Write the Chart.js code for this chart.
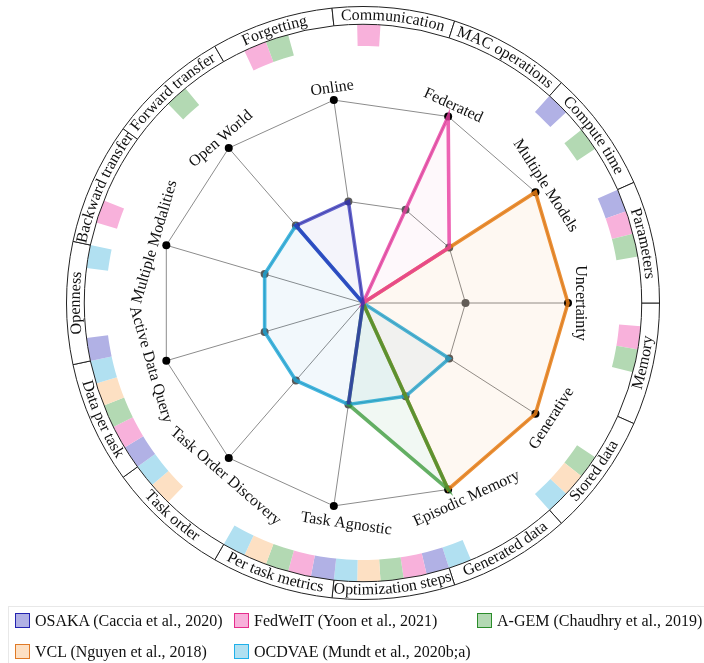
<!DOCTYPE html>
<html>
<head>
<meta charset="utf-8">
<script src="https://cdn.jsdelivr.net/npm/chart.js@4.4.1/dist/chart.umd.min.js"></script>
<style>
  body { margin: 0; background: #fff; }
  #wrap { position: relative; width: 704px; height: 663px; overflow: hidden; }
  #wrap canvas { position: absolute; left: 0; top: 0; }
  #legend { position: absolute; left: 8px; top: 606px; width: 700px; height: 60px; border: 1px solid #e8e8e8;
            font-family: "Liberation Serif", serif; font-size: 16px; color: #111; }
  .item { position: absolute; white-space: nowrap; height: 15px; line-height: 15px; }
  .box { display: inline-block; box-sizing: border-box; width: 15px; height: 15px; border: 1.5px solid; vertical-align: top; margin-right: 5px; }
</style>
</head>
<body>
<div id="wrap">
  <canvas id="ringChart" width="704" height="610"></canvas>
  <canvas id="radarChart" width="704" height="610"></canvas>
  <div id="legend"></div>
</div>
<script>
// radar axes, clockwise starting at the right
const axisLabels = ['Uncertainty', 'Generative', 'Episodic Memory', 'Task Agnostic', 'Task Order Discovery',
    'Active Data Query', 'Multiple Modalities', 'Open World', 'Online', 'Federated', 'Multiple Models'];

const methods = ['OSAKA (Caccia et al., 2020)', 'FedWeIT (Yoon et al., 2021)', 'A-GEM (Chaudhry et al., 2019)',
    'VCL (Nguyen et al., 2018)', 'OCDVAE (Mundt et al., 2020b;a)'];

const osaka   = [0, 0, 0, 1, 0, 0, 0, 1, 1, 0, 0];
const fedweit = [0, 0, 0, 0, 0, 0, 0, 0, 0, 2, 1];
const agem    = [0, 0, 2, 1, 0, 0, 0, 0, 0, 0, 0];
const vcl     = [2, 2, 2, 0, 0, 0, 0, 0, 0, 0, 2];
const ocdvae  = [0, 1, 1, 1, 1, 1, 1, 1, 0, 0, 0];

const innerLevel = [1, 1, 1, 1, 1, 1, 1, 1, 1, 1, 1];
const outerLevel = [2, 2, 2, 2, 2, 2, 2, 2, 2, 2, 2];

// outer ring of reported metrics, clockwise starting at the right
const metricLabels = ['Memory', 'Stored data', 'Generated data', 'Optimization steps', 'Per task metrics',
    'Task order', 'Data per task', 'Openness', 'Backward transfer', 'Forward transfer', 'Forgetting',
    'Communication', 'MAC operations', 'Compute time', 'Parameters'];

const osakaMetrics   = ['Optimization steps', 'Per task metrics', 'Data per task', 'Openness', 'Compute time', 'Parameters'];
const fedweitMetrics = ['Memory', 'Optimization steps', 'Per task metrics', 'Data per task', 'Backward transfer',
    'Forgetting', 'Communication', 'Parameters'];
const agemMetrics    = ['Memory', 'Stored data', 'Optimization steps', 'Per task metrics', 'Data per task',
    'Forward transfer', 'Forgetting', 'Compute time', 'Parameters'];
const vclMetrics     = ['Stored data', 'Optimization steps', 'Per task metrics', 'Task order', 'Data per task'];
const ocdvaeMetrics  = ['Stored data', 'Generated data', 'Optimization steps', 'Per task metrics', 'Task order',
    'Data per task', 'Openness'];

const lineColors = ['rgba(40, 40, 185, 0.72)', 'rgba(232, 60, 160, 0.8)', 'rgba(50, 150, 50, 0.75)',
    'rgba(232, 125, 20, 0.85)', 'rgba(25, 165, 215, 0.8)'];
const fillColors = ['rgba(60, 60, 190, 0.06)', 'rgba(230, 60, 150, 0.035)', 'rgba(60, 150, 80, 0.07)',
    'rgba(232, 140, 40, 0.06)', 'rgba(30, 140, 210, 0.06)'];
const boxFill = ['#b1b1e5', '#f8b1db', '#b3d9b3', '#fde0c3', '#b1e0f1'];
const boxBorder = ['#2323b0', '#e62e8c', '#2a8c2a', '#e07a26', '#1fb0ea'];

const FONT = '"Liberation Serif", "Times New Roman", serif';

// ---- ring of metrics (doughnut) ----
const allMetrics = [osakaMetrics, fedweitMetrics, agemMetrics, vclMetrics, ocdvaeMetrics];
const slotColors = [];
const slotData = [];
metricLabels.forEach(m => {
    allMetrics.forEach((list, k) => {
        slotData.push(1);
        slotColors.push(list.includes(m) ? boxFill[k] : 'rgba(0,0,0,0)');
    });
});

const ringLabelPlugin = {
    id: 'ringLabels',
    afterDatasetsDraw(chart) {
        const meta = chart.getDatasetMeta(0);
        const ctx = chart.ctx;
        ctx.save();
        ctx.font = '16px ' + FONT;
        ctx.fillStyle = '#111';
        ctx.textAlign = 'center';
        ctx.textBaseline = 'alphabetic';
        meta.data.forEach((arc, i) => {
            const p = arc.getProps(['x', 'y', 'startAngle', 'endAngle', 'innerRadius', 'outerRadius']);
            let mid = (p.startAngle + p.endAngle) / 2 + Math.PI / 2;
            mid = ((mid % (2 * Math.PI)) + 2 * Math.PI) % (2 * Math.PI);
            const deg = mid * 180 / Math.PI;
            const flip = deg > 90.5 && deg < 269.5;
            const text = metricLabels[i];
            const r = flip ? p.outerRadius - 5 : p.innerRadius + 4.5;
            const total = ctx.measureText(text).width;
            let theta = flip ? mid + total / 2 / r : mid - total / 2 / r;
            for (const ch of text) {
                const w = ctx.measureText(ch).width;
                const c = flip ? theta - w / 2 / r : theta + w / 2 / r;
                ctx.save();
                ctx.translate(p.x + r * Math.sin(c), p.y - r * Math.cos(c));
                ctx.rotate(flip ? c + Math.PI : c);
                ctx.fillText(ch, 0, 0);
                ctx.restore();
                theta = flip ? theta - w / r : theta + w / r;
            }
        });
        ctx.restore();
    }
};

new Chart(document.getElementById('ringChart').getContext('2d'), {
    type: 'doughnut',
    data: {
        labels: metricLabels,
        datasets: [{
            data: metricLabels.map(() => 1),
            backgroundColor: '#ffffff',
            borderColor: '#222',
            borderWidth: 1,
            weight: 18
        }, {
            data: slotData,
            backgroundColor: slotColors,
            borderWidth: 0,
            weight: 22
        }]
    },
    options: {
        responsive: false,
        animation: false,
        events: [],
        rotation: 90,
        cutout: 257,
        layout: { padding: { left: 66, right: 44, top: 6, bottom: 10 } },
        plugins: { legend: { display: false }, tooltip: { enabled: false } }
    },
    plugins: [ringLabelPlugin]
});

// ---- radar ----
const axisLabelPlugin = {
    id: 'axisLabels',
    afterDraw(chart) {
        const scale = chart.scales.r;
        const ctx = chart.ctx;
        ctx.save();
        ctx.font = '16px ' + FONT;
        ctx.fillStyle = '#111';
        ctx.textAlign = 'center';
        ctx.textBaseline = 'middle';
        chart.data.labels.forEach((label, i) => {
            const a = scale.getIndexAngle(i);
            const deg = a * 180 / Math.PI;
            const flip = deg > 90.5 && deg < 269.5;
            const pos = scale.getPointPosition(i, scale.drawingArea + (flip ? 16 : 12));
            // labels near the bottom sit a little further along their reading direction
            const shift = flip ? 22 * Math.abs(Math.cos(a)) - 7 : 0;
            ctx.save();
            ctx.translate(pos.x, pos.y);
            ctx.rotate(flip ? a - Math.PI : a);
            ctx.fillText(label, shift, 0);
            ctx.restore();
        });
        ctx.restore();
    }
};

const seriesValues = [osaka, fedweit, agem, vcl, ocdvae];
const radarSets = seriesValues.map((vals, k) => ({
    label: methods[k],
    data: vals,
    borderColor: lineColors[k],
    backgroundColor: fillColors[k],
    borderWidth: 3.6,
    pointRadius: 0,
    fill: true
}));
radarSets.push({
    label: 'level 1',
    data: innerLevel,
    borderColor: 'rgba(0,0,0,0)',
    borderWidth: 0,
    pointRadius: 4,
    pointBorderWidth: 0,
    pointBackgroundColor: '#5a5a5a',
    fill: false
}, {
    label: 'level 2',
    data: outerLevel,
    borderColor: 'rgba(0,0,0,0)',
    borderWidth: 0,
    pointRadius: 4,
    pointBorderWidth: 0,
    pointBackgroundColor: '#000',
    fill: false
});

new Chart(document.getElementById('radarChart').getContext('2d'), {
    type: 'radar',
    data: { labels: axisLabels, datasets: radarSets },
    options: {
        responsive: false,
        animation: false,
        events: [],
        layout: { padding: { left: 158, right: 136, top: 98, bottom: 102 } },
        plugins: { legend: { display: false }, tooltip: { enabled: false } },
        scales: {
            r: {
                min: 0,
                max: 2,
                startAngle: 90,
                ticks: { display: false, stepSize: 1 },
                grid: { circular: false, color: '#8c8c8c', lineWidth: 1 },
                angleLines: { color: '#8c8c8c', lineWidth: 1 },
                pointLabels: { display: false }
            }
        }
    },
    plugins: [axisLabelPlugin]
});

// ---- legend ----
const legendPos = [[6, 6], [225, 6], [468, 6], [6, 37], [225, 37]];
const legend = document.getElementById('legend');
methods.forEach((name, k) => {
    const item = document.createElement('div');
    item.className = 'item';
    item.style.left = legendPos[k][0] + 'px';
    item.style.top = legendPos[k][1] + 'px';
    const box = document.createElement('span');
    box.className = 'box';
    box.style.background = boxFill[k];
    box.style.borderColor = boxBorder[k];
    item.appendChild(box);
    item.appendChild(document.createTextNode(name));
    legend.appendChild(item);
});
</script>
</body>
</html>
